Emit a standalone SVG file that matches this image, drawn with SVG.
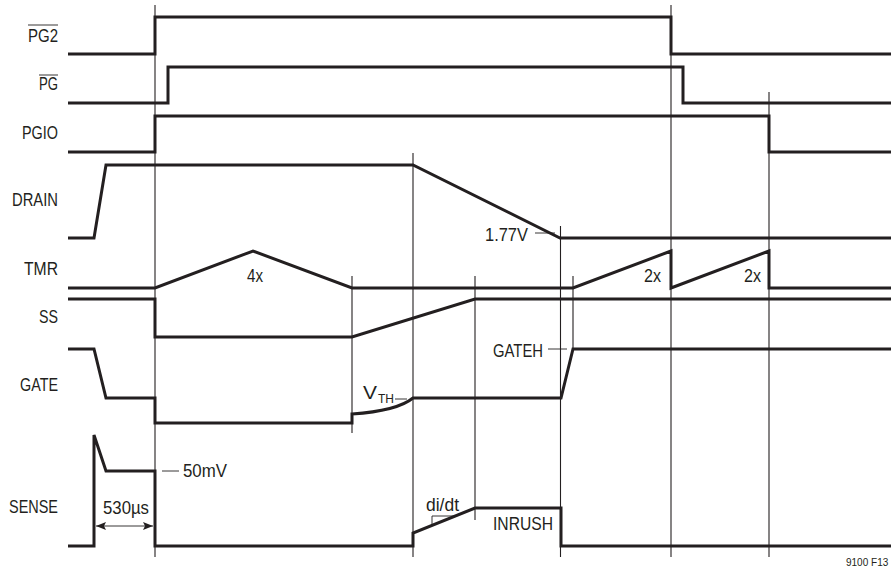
<svg xmlns="http://www.w3.org/2000/svg" width="891" height="572" viewBox="0 0 891 572">
<defs>
<style>
.w{fill:none;stroke:#231f20;stroke-width:3;stroke-linejoin:miter;stroke-linecap:butt}
.g{fill:none;stroke:#231f20;stroke-width:1.1}
.t{fill:none;stroke:#231f20;stroke-width:0.9}
text{font-family:"Liberation Sans",Arial,sans-serif;font-size:18px;fill:#231f20}
.lbl{text-anchor:end}
text.fig{font-size:10px}
</style>
<marker id="ah" viewBox="0 0 10 8" refX="10" refY="4" markerWidth="10" markerHeight="8" markerUnits="userSpaceOnUse" orient="auto-start-reverse">
<path d="M0,0 L10,4 L0,8 L2,4 Z" fill="#231f20"/>
</marker>
</defs>
<rect width="891" height="572" fill="#fff"/>
<g id="guides">
<line class="g" x1="155" y1="5" x2="155" y2="557"/>
<line class="g" x1="671" y1="5" x2="671" y2="557"/>
<line class="g" x1="769" y1="92" x2="769" y2="557"/>
<line class="g" x1="413" y1="153" x2="413" y2="557"/>
<line class="g" x1="560.5" y1="226" x2="560.5" y2="557"/>
<line class="g" x1="352" y1="276" x2="352" y2="433"/>
<line class="g" x1="475" y1="276" x2="475" y2="520"/>
<line class="g" x1="573" y1="276" x2="573" y2="350"/>
</g>
<g id="labels">
<text class="lbl" x="58" y="42" textLength="30" lengthAdjust="spacingAndGlyphs">PG2</text>
<line class="t" x1="28" y1="25" x2="58" y2="25"/>
<text class="lbl" x="58" y="90" textLength="19" lengthAdjust="spacingAndGlyphs">PG</text>
<line class="t" x1="39" y1="75" x2="58" y2="75"/>
<text class="lbl" x="58" y="139" textLength="36" lengthAdjust="spacingAndGlyphs">PGIO</text>
<text class="lbl" x="58" y="206" textLength="46" lengthAdjust="spacingAndGlyphs">DRAIN</text>
<text class="lbl" x="58" y="275" textLength="34" lengthAdjust="spacingAndGlyphs">TMR</text>
<text class="lbl" x="58" y="323" textLength="19" lengthAdjust="spacingAndGlyphs">SS</text>
<text class="lbl" x="58" y="391" textLength="38" lengthAdjust="spacingAndGlyphs">GATE</text>
<text class="lbl" x="58" y="513" textLength="49" lengthAdjust="spacingAndGlyphs">SENSE</text>
</g>
<g id="PG2">
<polyline class="w" points="68,54 155,54 155,17 671,17 671,54 891,54"/>
</g>
<g id="PG">
<polyline class="w" points="68,103 168,103 168,67 683,67 683,103 891,103"/>
</g>
<g id="PGIO">
<polyline class="w" points="68,152 155,152 155,116 769,116 769,152 891,152"/>
</g>
<g id="DRAIN">
<polyline class="w" points="68,238 94,238 106,165 413,165 560,238 891,238"/>
<text x="485" y="241" textLength="43" lengthAdjust="spacingAndGlyphs">1.77V</text>
<line class="t" x1="535" y1="233" x2="555" y2="233"/>
</g>
<g id="TMR">
<polyline class="w" points="68,288 155,288 253,251 352,288 573,288 671,251 671,288 769,251 769,288 891,288"/>
<text x="247" y="282" textLength="16" lengthAdjust="spacingAndGlyphs">4x</text>
<text x="644" y="282" textLength="17" lengthAdjust="spacingAndGlyphs">2x</text>
<text x="744" y="282" textLength="17" lengthAdjust="spacingAndGlyphs">2x</text>
</g>
<g id="SS">
<polyline class="w" points="68,299 155,299 155,337 352,337 475,299 891,299"/>
</g>
<g id="GATE">
<path class="w" d="M68,349 L94,349 L106,398 L155,398 L155,423 L352,423 L352,414 Q397,411 413,398 L561,398 L573,349 L891,349"/>
<text x="363" y="399"><tspan textLength="14" lengthAdjust="spacingAndGlyphs">V</tspan><tspan x="378" dy="4" font-size="13" textLength="16" lengthAdjust="spacingAndGlyphs">TH</tspan></text>
<line class="t" x1="395" y1="399" x2="407" y2="399"/>
<text x="493" y="357" textLength="50" lengthAdjust="spacingAndGlyphs">GATEH</text>
<line class="t" x1="548" y1="349" x2="567" y2="349"/>
</g>
<g id="SENSE">
<polyline class="w" points="68,546 94,546 94,435 106,471 155,471 155,546 413,546 413,533 475,508 561,508 561,546 891,546"/>
<line class="t" x1="162" y1="471" x2="179" y2="471"/>
<text x="183" y="477" textLength="44" lengthAdjust="spacingAndGlyphs">50mV</text>
<line class="t" x1="96" y1="526" x2="153" y2="526" marker-start="url(#ah)" marker-end="url(#ah)"/>
<text x="103" y="514" textLength="46" lengthAdjust="spacingAndGlyphs">530µs</text>
<polyline class="t" points="432,525 432,516 455,516"/>
<text x="426" y="511" textLength="33" lengthAdjust="spacingAndGlyphs">di/dt</text>
<text x="493" y="530" textLength="60" lengthAdjust="spacingAndGlyphs">INRUSH</text>
</g>
<text class="fig" x="846" y="566">9100 F13</text>
</svg>
